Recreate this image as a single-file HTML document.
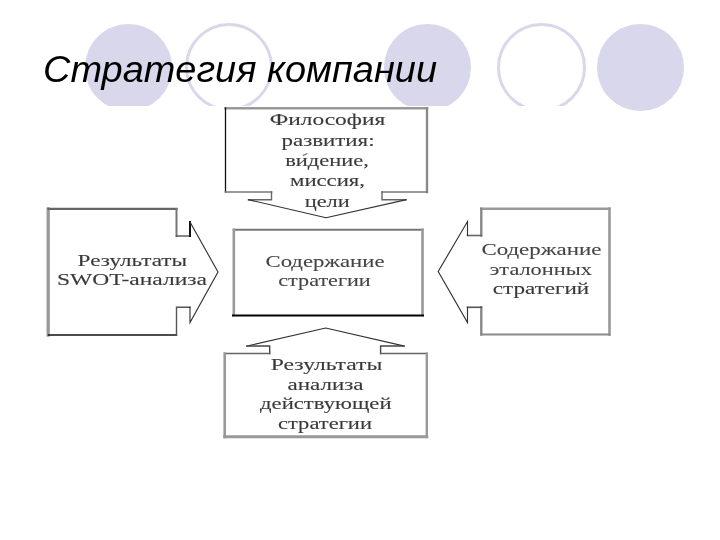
<!DOCTYPE html>
<html lang="ru">
<head>
<meta charset="utf-8">
<title>Стратегия компании</title>
<style>
  html, body { margin: 0; padding: 0; background: #ffffff; }
  body { width: 720px; height: 540px; position: relative; overflow: hidden;
         font-family: "Liberation Sans", sans-serif; }
  .circle { position: absolute; border-radius: 50%; box-sizing: border-box; }
  .fill { background: #d8d7eb; }
  .ring { border: 3px solid #d8d7eb; background: transparent; }
  #pic { position: absolute; left: 40px; top: 105.7px; width: 575px; height: 340px; background: #ffffff; }
  #title { position: absolute; left: 43px; top: 48px; margin: 0; font-style: italic; font-weight: normal;
           font-size: 36.4px; line-height: 44px; color: #000; white-space: nowrap; transform: scaleX(1.042); transform-origin: 0 0; }
  #dia { position: absolute; left: 0; top: 0; width: 720px; height: 540px; }
  #dia .ln { filter: blur(0.4px); }
  #dia .tx { filter: blur(0.65px); }
  #dia text { font-family: "Liberation Serif", serif; font-size: 17.5px; fill: #383838; stroke: #555; stroke-width: 0.16px; }
  #dia text.lt { fill: #444; stroke: #444; stroke-width: 0.1px; }
</style>
</head>
<body>
  <div class="circle fill" style="left:84.5px; top:23.6px; width:87px; height:87px;"></div>
  <div class="circle ring" style="left:184.5px; top:22.8px; width:88.6px; height:88.6px;"></div>
  <div class="circle fill" style="left:384px; top:23.6px; width:87px; height:87px;"></div>
  <div class="circle ring" style="left:497px; top:22.8px; width:88.8px; height:88.8px;"></div>
  <div class="circle fill" style="left:597px; top:23.6px; width:87px; height:87px;"></div>
  <div id="pic"></div>
  <h1 id="title">Стратегия компании</h1>

  <svg id="dia" viewBox="0 0 720 540" width="720" height="540">
    <!-- top callout -->
    <g class="ln" fill="none" stroke-linecap="square">
      <path d="M225.5 108.2 H427" stroke="#999" stroke-width="2.6"/>
      <path d="M427 108.2 V192" stroke="#8a8a8a" stroke-width="2.4"/>
      <path d="M225.5 108 V192" stroke="#111" stroke-width="1.3"/>
      <path d="M225.5 192 H271.5" stroke="#777" stroke-width="1.6"/>
      <path d="M427 192 H382" stroke="#777" stroke-width="1.6"/>
      <path d="M271.5 192 V199.7 H248.5" stroke="#666" stroke-width="1.4"/>
      <path d="M382 192 V199.7 H406" stroke="#666" stroke-width="1.4"/>
      <path d="M248.5 199.7 L326 217.8 L406 199.7" stroke="#333" stroke-width="1.15" stroke-linejoin="round"/>
    </g>
    <g class="tx" text-anchor="middle">
      <text x="327.5" y="125.3" textLength="115.5" lengthAdjust="spacingAndGlyphs">Философия</text>
      <text x="328" y="145.5" textLength="93" lengthAdjust="spacingAndGlyphs">развития:</text>
      <text x="327" y="166.3" textLength="83.5" lengthAdjust="spacingAndGlyphs">видение,</text>
      <path d="M302.8 155.6 L307.3 153.5" stroke="#777" stroke-width="1.2" fill="none"/>
      <text x="327.5" y="186.3" textLength="75" lengthAdjust="spacingAndGlyphs">миссия,</text>
      <text x="327.2" y="206.6" textLength="45" lengthAdjust="spacingAndGlyphs">цели</text>
    </g>

    <!-- centre box -->
    <g class="ln" fill="none" stroke-linecap="square">
      <path d="M233.8 229.8 H422.5" stroke="#777" stroke-width="2"/>
      <path d="M233.8 229.8 V315" stroke="#999" stroke-width="2.6"/>
      <path d="M422.5 229.8 V315" stroke="#999" stroke-width="2.6"/>
      <path d="M233 315.4 H423" stroke="#000" stroke-width="2"/>
    </g>
    <g class="tx" text-anchor="middle">
      <text x="325" y="267" textLength="119" lengthAdjust="spacingAndGlyphs" class="lt">Содержание</text>
      <text x="324.5" y="286.3" textLength="92.5" lengthAdjust="spacingAndGlyphs" class="lt">стратегии</text>
    </g>

    <!-- left callout -->
    <g class="ln" fill="none" stroke-linecap="square">
      <path d="M48.2 208.9 V335" stroke="#999" stroke-width="3.3"/>
      <path d="M48.5 208.9 H176.5" stroke="#666" stroke-width="2.2"/>
      <path d="M48.5 335 H176.5" stroke="#111" stroke-width="1.4"/>
      <path d="M176.5 208.9 V236" stroke="#777" stroke-width="2"/>
      <path d="M176.5 236 H190" stroke="#555" stroke-width="1.4"/>
      <path d="M176.5 335 V307.3 H190" stroke="#555" stroke-width="1.4"/>
      <path d="M190 236 V222" stroke="#111" stroke-width="2"/>
      <path d="M190 222 L218 272 L190 322.5 V307.3" stroke="#333" stroke-width="1.15" stroke-linejoin="miter"/>
    </g>
    <g class="tx" text-anchor="middle">
      <text x="132.3" y="265.7" textLength="109.5" lengthAdjust="spacingAndGlyphs">Результаты</text>
      <text x="132" y="285.4" textLength="150" lengthAdjust="spacingAndGlyphs">SWOT-анализа</text>
    </g>

    <!-- right callout -->
    <g class="ln" fill="none" stroke-linecap="square">
      <path d="M481.3 208.7 H609.5" stroke="#999" stroke-width="2.4"/>
      <path d="M609.5 208.7 V334.5" stroke="#999" stroke-width="2.6"/>
      <path d="M481.3 334.5 H609.5" stroke="#8a8a8a" stroke-width="1.8"/>
      <path d="M481.3 208.7 V235.5" stroke="#888" stroke-width="2.4"/>
      <path d="M481.3 235.5 H467.5" stroke="#666" stroke-width="1.6"/>
      <path d="M481.3 334.5 V307.3" stroke="#888" stroke-width="2.4"/>
      <path d="M481.3 307.3 H467.5" stroke="#555" stroke-width="1.6"/>
      <path d="M467.5 235.5 V221.5 L438.2 271.5 L467.5 322.5 V307.3" stroke="#333" stroke-width="1.15"/>
    </g>
    <g class="tx" text-anchor="middle">
      <text x="541.4" y="255.4" textLength="120" lengthAdjust="spacingAndGlyphs" class="lt">Содержание</text>
      <text x="540.8" y="274.8" textLength="102" lengthAdjust="spacingAndGlyphs" class="lt">эталонных</text>
      <text x="541" y="294.4" textLength="96.5" lengthAdjust="spacingAndGlyphs">стратегий</text>
    </g>

    <!-- bottom callout -->
    <g class="ln" fill="none" stroke-linecap="square">
      <path d="M247 346 L325.7 328 L404 346" stroke="#333" stroke-width="1.15" stroke-linejoin="round"/>
      <path d="M247 346 H269.7 V353.6" stroke="#444" stroke-width="1.4"/>
      <path d="M404 346 H380.6 V353.6" stroke="#444" stroke-width="1.4"/>
      <path d="M224.7 353.6 H269.7" stroke="#666" stroke-width="1.5"/>
      <path d="M380.6 353.6 H426.8" stroke="#666" stroke-width="1.5"/>
      <path d="M224.7 353.6 V437" stroke="#999" stroke-width="2.6"/>
      <path d="M426.8 353.6 V437" stroke="#999" stroke-width="2.4"/>
      <path d="M224.7 436.8 H426.8" stroke="#999" stroke-width="3"/>
    </g>
    <g class="tx" text-anchor="middle">
      <text x="326.5" y="370.2" textLength="111.5" lengthAdjust="spacingAndGlyphs">Результаты</text>
      <text x="325.5" y="389.6" textLength="76" lengthAdjust="spacingAndGlyphs">анализа</text>
      <text x="325.8" y="409.4" textLength="131.5" lengthAdjust="spacingAndGlyphs">действующей</text>
      <text x="325" y="429.2" textLength="94" lengthAdjust="spacingAndGlyphs">стратегии</text>
    </g>
  </svg>
</body>
</html>
